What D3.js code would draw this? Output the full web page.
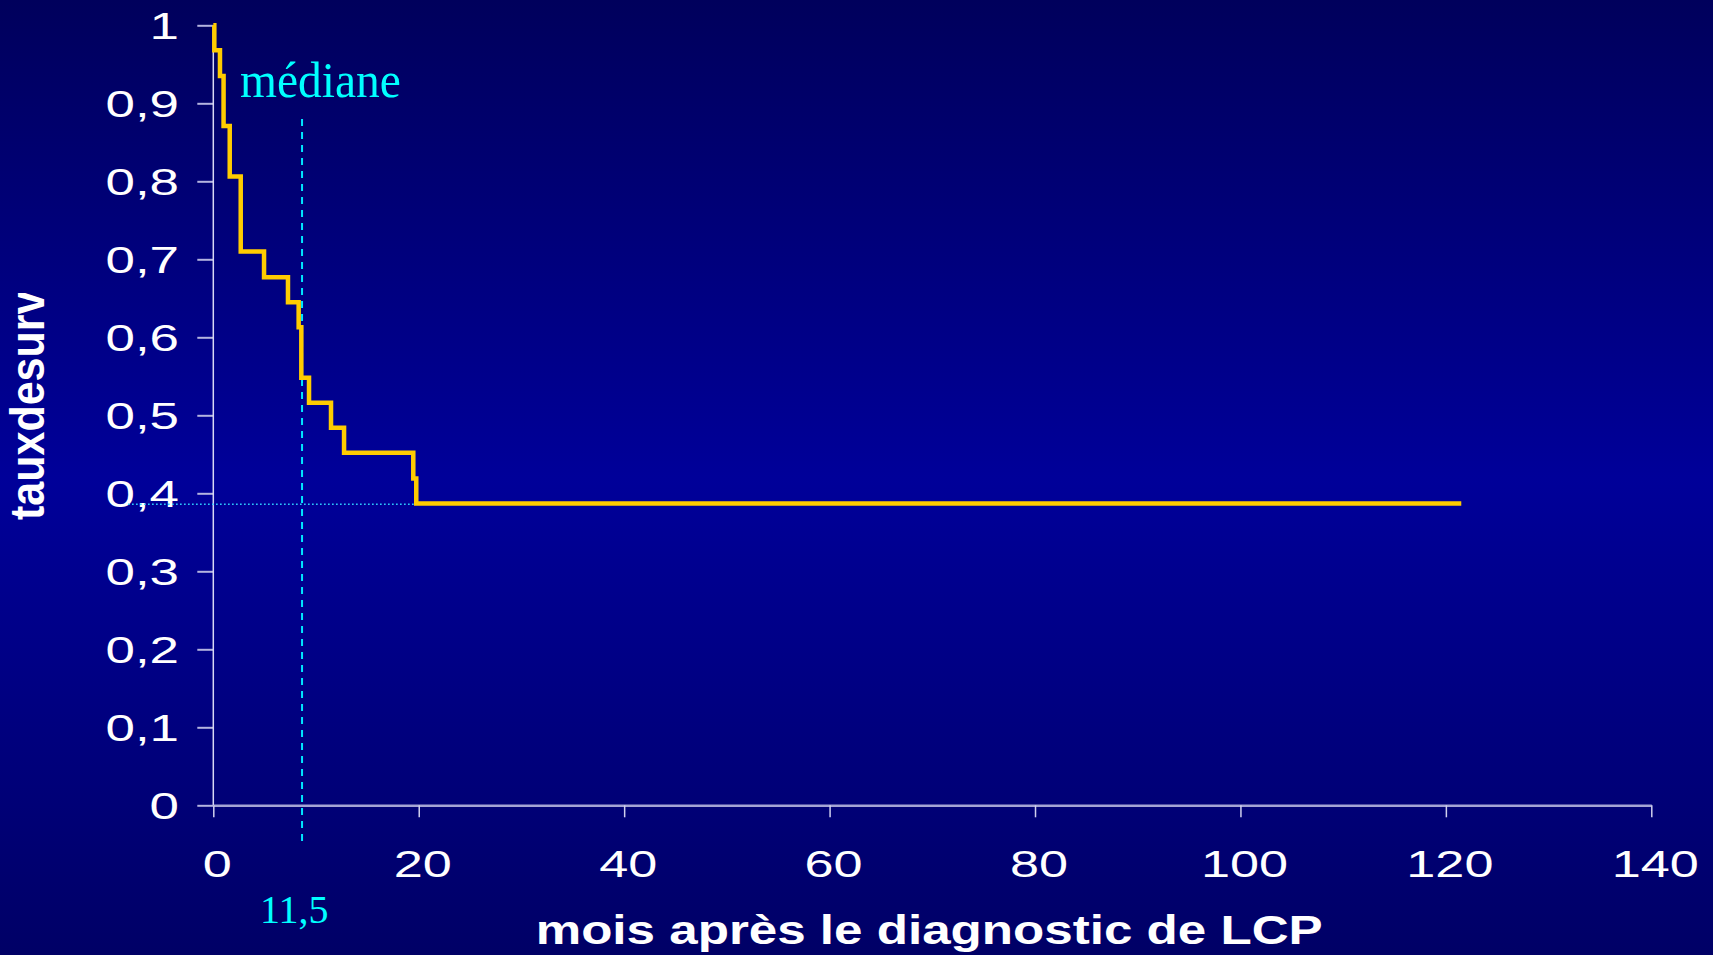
<!DOCTYPE html>
<html>
<head>
<meta charset="utf-8">
<style>
  html, body { margin: 0; padding: 0; background: #000080; }
  svg { display: block; }
  text { font-family: "Liberation Sans", Arial, sans-serif; }
</style>
</head>
<body>
<script src="https://cdn.jsdelivr.net/npm/d3@7"></script>
<script>
// survival curve (Kaplan-Meier steps)
var months   = [0, 0.1, 0.65, 1.0, 1.6, 2.67, 4.94, 7.27, 8.31, 8.57, 9.32, 11.46, 12.73, 19.47, 19.76, 121.5];
var survival = [1, 0.968, 0.935, 0.871, 0.806, 0.710, 0.677, 0.645, 0.613, 0.548, 0.516, 0.484, 0.452, 0.419, 0.387, 0.387];

var xTicks = [0, 20, 40, 60, 80, 100, 120, 140];
var yTicks = [0, 0.1, 0.2, 0.3, 0.4, 0.5, 0.6, 0.7, 0.8, 0.9, 1];

// median guide lines, as drawn
var medianX = 8.64, medianLabel = "11,5";
var medianLineY = [0.88, -0.046];
var medianY = 0.386, medianDotX = [-8.3, 25.8];

var width = 1713, height = 955;

var x = d3.scaleLinear().domain([0, 140]).range([213.3, 1651.3]);
var y = d3.scaleLinear().domain([0, 1]).range([805.3, 25.3]);

var fmt = function (d) { return String(+d.toFixed(1)).replace(".", ","); };

var svg = d3.select("body").append("svg")
    .attr("width", width)
    .attr("height", height);

var grad = svg.append("defs").append("linearGradient")
    .attr("id", "bg").attr("x1", 0).attr("y1", 0).attr("x2", 0).attr("y2", 1);
grad.append("stop").attr("offset", "0%").attr("stop-color", "#00005c");
grad.append("stop").attr("offset", "50%").attr("stop-color", "#000099");
grad.append("stop").attr("offset", "100%").attr("stop-color", "#000066");

svg.append("rect").attr("width", width).attr("height", height).attr("fill", "url(#bg)");

// stretch text horizontally like the original slide
function stretch(sel, k) {
    sel.each(function () {
        var w = this.getComputedTextLength();
        d3.select(this).attr("textLength", w * k).attr("lengthAdjust", "spacingAndGlyphs");
    });
}

// y axis
var yAxis = svg.append("g")
    .attr("transform", "translate(" + x(0) + ",0)")
    .call(d3.axisLeft(y).tickValues(yTicks).tickSize(16).tickPadding(18.3).tickFormat(fmt));
yAxis.select(".domain").remove();
yAxis.append("line")
    .attr("y1", y(1)).attr("y2", y(0))
    .attr("stroke", "#d8d8f4").attr("stroke-width", 1.5);
yAxis.selectAll(".tick line").attr("stroke", "#b4b4e0").attr("stroke-width", 2);
yAxis.selectAll(".tick text")
    .attr("fill", "#fff").attr("font-size", 36).attr("dy", "0.36em")
    .call(stretch, 1.47);

// x axis
var xAxis = svg.append("g")
    .attr("transform", "translate(0," + y(0) + ")")
    .call(d3.axisBottom(x).tickValues(xTicks).tickSizeInner(12).tickSizeOuter(0).tickPadding(34.4));
xAxis.select(".domain").attr("stroke", "#a4a4d4").attr("stroke-width", 2.5);
xAxis.selectAll(".tick line").attr("stroke", "#d0d0ee").attr("stroke-width", 1.5);
xAxis.selectAll(".tick text")
    .attr("fill", "#fff").attr("font-size", 36).attr("dx", 3.5)
    .call(stretch, 1.45);

// median guides
svg.append("line")
    .attr("x1", x(medianDotX[0])).attr("x2", x(medianDotX[1]))
    .attr("y1", y(medianY)).attr("y2", y(medianY))
    .attr("stroke", "#2fd0ff").attr("stroke-width", 1.6)
    .attr("stroke-dasharray", "1.6 2.4");

svg.append("line")
    .attr("x1", x(medianX)).attr("x2", x(medianX))
    .attr("y1", y(medianLineY[0])).attr("y2", y(medianLineY[1]))
    .attr("stroke", "#00e6ff").attr("stroke-width", 2)
    .attr("stroke-dasharray", "7 6");

// survival curve
var pts = months.map(function (m, i) { return [m, survival[i]]; });
var line = d3.line()
    .x(function (d) { return x(d[0]); })
    .y(function (d) { return y(d[1]); })
    .curve(d3.curveStepAfter);

svg.append("path")
    .datum(pts)
    .attr("d", line)
    .attr("fill", "none")
    .attr("stroke", "#ffcc00")
    .attr("stroke-width", 4.5);

// labels
svg.append("text")
    .attr("x", 240).attr("y", 96.7)
    .attr("fill", "#00ffff")
    .style("font-family", "'Liberation Serif', 'Times New Roman', serif")
    .attr("font-size", 50)
    .text("médiane")
    .call(stretch, 0.95);

svg.append("text")
    .attr("x", 260).attr("y", 922.7)
    .attr("fill", "#00ffff")
    .style("font-family", "'Liberation Serif', 'Times New Roman', serif")
    .attr("font-size", 40)
    .text(medianLabel);

svg.append("text")
    .attr("x", 535.7).attr("y", 944)
    .attr("fill", "#fff")
    .attr("font-size", 41).attr("font-weight", "bold")
    .attr("textLength", 787).attr("lengthAdjust", "spacingAndGlyphs")
    .text("mois après le diagnostic de LCP");

// y title, cut off at the top as in the slide
svg.append("clipPath").attr("id", "ytclip")
    .append("rect").attr("x", 0).attr("y", 293).attr("width", 80).attr("height", 240);

svg.append("g").attr("clip-path", "url(#ytclip)")
    .append("text")
    .attr("transform", "translate(44,520) rotate(-90) scale(1,1.1)")
    .attr("fill", "#fff")
    .attr("font-size", 43).attr("font-weight", "bold")
    .style("word-spacing", "-0.278em")
    .text("taux de survie");
</script>
</body>
</html>
